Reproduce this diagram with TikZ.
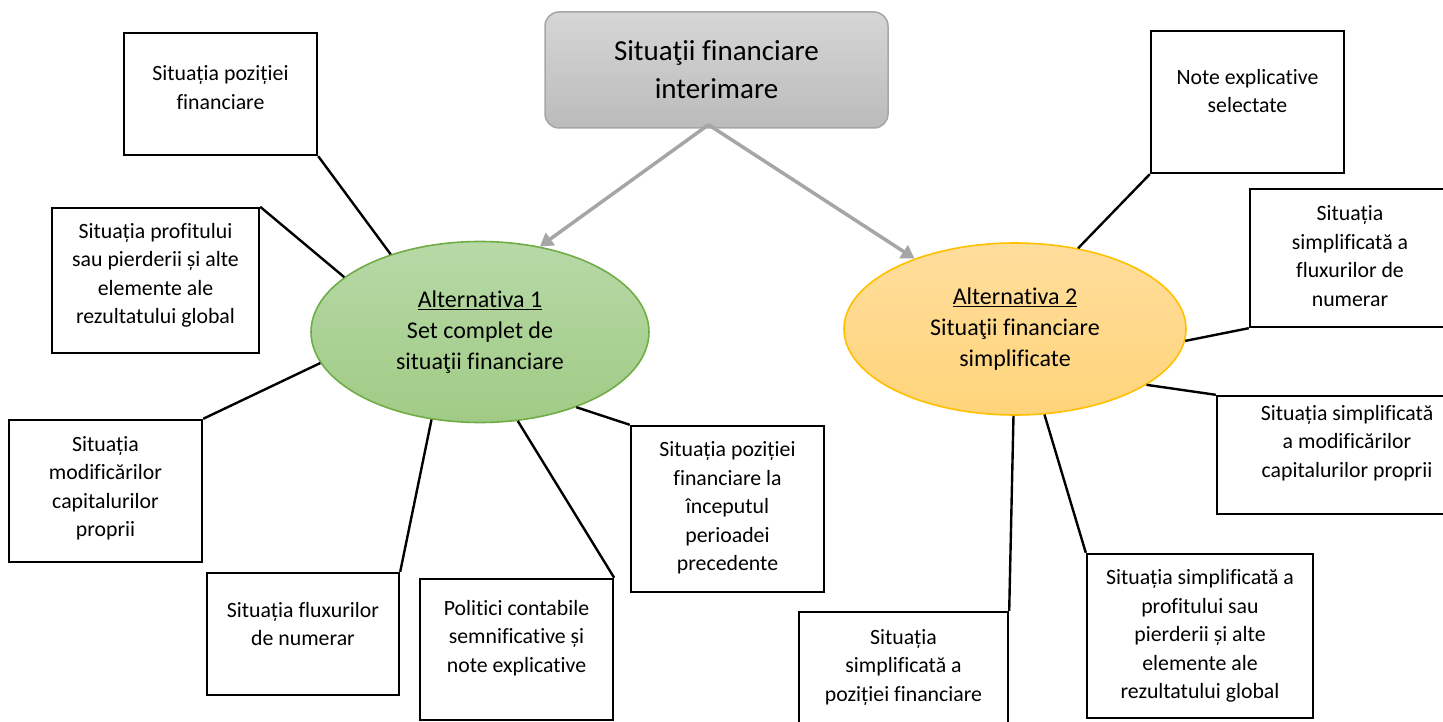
\documentclass[tikz,border=0pt]{standalone}
\usepackage{fontspec}
\setmainfont[Ligatures=NoCommon]{Carlito}
\usetikzlibrary{positioning,arrows.meta,shapes.geometric}
\definecolor{toptop}{HTML}{D6D6D6}
\definecolor{topbot}{HTML}{BBBBBB}
\definecolor{topline}{HTML}{A6A6A6}
\definecolor{arrgray}{HTML}{A6A6A6}
\definecolor{greentop}{HTML}{B7D9A7}
\definecolor{greenbot}{HTML}{A0CB85}
\definecolor{greenline}{HTML}{70AD47}
\definecolor{orangetop}{HTML}{FFDD9C}
\definecolor{orangebot}{HTML}{FFD47A}
\definecolor{orangeline}{HTML}{FFC000}

\begin{document}
\begin{tikzpicture}[x=1pt, y=-1pt,
  box/.style={draw, line width=2.4pt, fill=white, inner sep=0pt},
  txt/.style={align=center, inner sep=0pt, font=\fontsize{21.8}{28.5}\selectfont},
  alt/.style={ellipse, line width=1.6pt, align=center, inner sep=0pt, font=\fontsize{24}{31}\selectfont},
  conn/.style={line width=2.4pt},
  arr/.style={line width=3.5pt, draw=arrgray, -{Triangle[length=13pt,width=15pt]}}]
\useasboundingbox (0,0) rectangle (1443,722);
\node[draw=topline, line width=1.5pt, rounded corners=14pt, top color=toptop, bottom color=topbot,
  minimum width=343pt, minimum height=116pt, align=center, font=\fontsize{29}{38}\selectfont]
  (sit) at (716.5,70) {Situaţii financiare\\interimare};
\node[alt, draw=greenline, top color=greentop, bottom color=greenbot, minimum width=338pt, minimum height=181pt]
  (alt1) at (480,332) {\underline{Alternativa 1}\\Set complet de\\situaţii financiare};
\node[alt, draw=orangeline, top color=orangetop, bottom color=orangebot, minimum width=342pt, minimum height=172pt]
  (alt2) at (1015,329) {\underline{Alternativa 2}\\Situaţii financiare\\simplificate};
\draw[arr] ([xshift=-8pt,yshift=4pt]sit.south) -- (alt1.55);
\draw[arr] ([xshift=-8pt,yshift=4pt]sit.south) -- (alt2.145);
% casetele din stanga
\node[box, minimum width=193pt, minimum height=122pt] (pozfin) at (220.5,94) {};
\node[txt] (pozfin-t) at ([yshift=6.5pt]pozfin.center) {Situația poziției\\financiare};
\node[box, minimum width=207pt, minimum height=145pt] (profit) at (155.5,280.5) {};
\node[txt] (profit-t) at ([yshift=5pt]profit.center) {Situația profitului\\sau pierderii și alte\\elemente ale\\rezultatului global};
\node[box, minimum width=193pt, minimum height=142pt] (capit) at (105.5,491) {};
\node[txt] (capit-t) at ([yshift=2.5pt]capit.center) {Situația\\modificărilor\\capitalurilor\\proprii};
\node[box, minimum width=192pt, minimum height=122pt] (flux) at (303,634) {};
\node[txt] (flux-t) at ([yshift=10pt]flux.center) {Situația fluxurilor\\de numerar};
\node[box, minimum width=193pt, minimum height=141pt] (polit) at (516.5,649.5) {};
\node[txt] (polit-t) at ([yshift=11.5pt]polit.center) {Politici contabile\\semnificative și\\note explicative};
\node[box, minimum width=193pt, minimum height=166pt] (incep) at (727.5,509) {};
\node[txt] (incep-t) at ([yshift=1pt]incep.center) {Situația poziției\\financiare la\\începutul\\perioadei\\precedente};
% casetele din dreapta
\node[box, minimum width=193pt, minimum height=142pt] (note) at (1247.5,102) {};
\node[txt] (note-t) at ([yshift=11pt]note.center) {Note explicative\\selectate};
\node[box, minimum width=200pt, minimum height=138pt] (simflux) at (1350,258) {};
\node[txt] (simflux-t) at ([yshift=2pt]simflux.center) {Situația\\simplificată a\\fluxurilor de\\numerar};
\node[box, minimum width=260pt, minimum height=118pt] (simcap) at (1347,455) {};
\node[txt] (simcap-t) at ([yshift=12pt]simcap.center) {Situația simplificată\\a modificărilor\\capitalurilor proprii};
\node[box, minimum width=209pt, minimum height=128pt] (simpoz) at (903.5,676) {};
\node[txt] (simpoz-t) at ([yshift=9pt]simpoz.center) {Situația\\simplificată a\\poziției financiare};
\node[box, minimum width=226pt, minimum height=164pt] (simprof) at (1200,636) {};
\node[txt] (simprof-t) at (simprof.center) {Situația simplificată a\\profitului sau\\pierderii și alte\\elemente ale\\rezultatului global};
\foreach \b/\e in {pozfin.south east/alt1.139, profit.north east/alt1.158, capit.north east/alt1.191,
  flux.north east/alt1.241, polit.north east/alt1.293, incep.north west/alt1.322}
  \draw[conn] (\b) -- (\e);
\foreach \b/\e in {note.south west/alt2.52, simflux.south west/alt2.356, simcap.north west/alt2.337,
  simpoz.north east/alt2.269, simprof.north west/alt2.289}
  \draw[conn] (\b) -- (\e);
\end{tikzpicture}
\end{document}
